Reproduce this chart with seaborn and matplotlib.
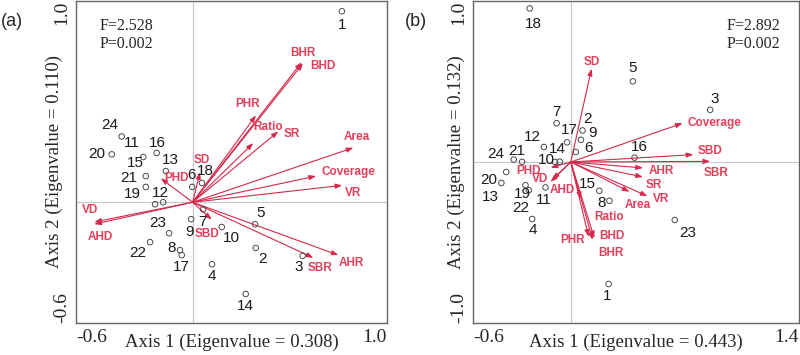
import pandas as pd
import matplotlib
matplotlib.use('Agg')
import matplotlib.pyplot as plt
import seaborn as sns

# site numbers
sites = list(range(1, 25))

# panel (a) site scores
a_site_x = [0.768, 0.325, 0.566, 0.100, 0.321, -0.002, 0.054, -0.065, -0.008, 0.150, -0.193, -0.152,
            -0.138, 0.273, -0.254, -0.185, -0.056, 0.048, -0.241, -0.416, -0.241, -0.219, -0.121, -0.365]
a_site_y = [0.949, -0.227, -0.266, -0.308, -0.109, 0.076, -0.035, -0.238, -0.084, -0.123, -0.010, 0.000,
            0.155, -0.456, 0.225, 0.245, -0.263, 0.096, 0.076, 0.238, 0.130, -0.198, -0.154, 0.327]

# panel (b) site scores
b_site_x = [0.232, 0.072, 0.855, -0.237, 0.381, 0.031, -0.087, 0.237, 0.062, -0.097, -0.155, -0.165,
            -0.396, -0.068, 0.175, 0.391, -0.023, -0.252, -0.278, -0.426, -0.299, -0.258, 0.638, -0.350]
b_site_y = [-0.758, 0.196, 0.324, -0.354, 0.501, 0.062, 0.241, -0.241, 0.138, 0.000, -0.158, 0.093,
            -0.062, 0.002, -0.179, 0.027, 0.122, 0.954, -0.144, -0.130, 0.001, -0.175, -0.360, 0.015]

# environmental vectors
a_env = ['BHR', 'BHD', 'PHR', 'Ratio', 'SR', 'Area', 'Coverage', 'VR', 'SD', 'PHD', 'VD', 'AHD', 'SBD', 'SBR', 'AHR']
a_env_x = [0.561, 0.568, 0.326, 0.312, 0.441, 0.827, 0.635, 0.770, 0.038, -0.164, -0.506, -0.506, 0.098, 0.621, 0.750]
a_env_y = [0.696, 0.690, 0.432, 0.294, 0.352, 0.271, 0.130, 0.084, 0.149, 0.119, -0.098, -0.109, -0.086, -0.276, -0.263]

b_env = ['SD', 'Coverage', 'SBD', 'SBR', 'AHR', 'SR', 'VR', 'Area', 'Ratio', 'PHR', 'BHD', 'BHR', 'PHD', 'VD', 'AHD']
b_env_x = [0.127, 0.686, 0.752, 0.855, 0.443, 0.443, 0.470, 0.360, 0.062, 0.109, 0.144, 0.134, -0.124, -0.114, -0.124]
b_env_y = [0.579, 0.241, 0.046, 0.004, -0.037, -0.093, -0.212, -0.185, -0.231, -0.464, -0.473, -0.484, -0.035, -0.109, -0.124]

a_eig = ('0.308', '0.110')
b_eig = ('0.443', '0.132')
a_stats = ['F=2.528', 'P=0.002']
b_stats = ['F=2.892', 'P=0.002']

# label offsets (pixels, dx right / dy up)
a_site_off = {1: (0, -14), 2: (7, -11), 3: (-4, -11), 4: (0, -12), 5: (6, 11), 6: (-1, 12), 7: (-1, -13),
              8: (-8, 2), 9: (-2, -13), 10: (10, -11), 11: (-23, 61), 12: (-3, 9), 13: (5, 11), 14: (0, -12),
              15: (-8, -6), 16: (1, 10), 17: (0, -12), 18: (3, 12), 19: (-13, -7), 20: (-15, 0), 21: (-17, -2),
              22: (-12, -11), 23: (-11, 10), 24: (-12, 11)}
b_site_off = {1: (-1, -12), 2: (5, 11), 3: (5, 11), 4: (1, -11), 5: (0, 13), 6: (13, 4), 7: (0, 11),
              8: (-8, -2), 9: (12, 7), 10: (-9, 2), 11: (-2, -13), 12: (-12, 10), 13: (-16, -25), 14: (-2, 13),
              15: (-12, 7), 16: (5, 11), 17: (2, 12), 18: (4, -16), 19: (-3, -9), 20: (-13, 3), 21: (-5, 11),
              22: (-8, -18), 23: (13, -13), 24: (-18, 6)}
a_env_off = {'BHR': (1, 9), 'BHD': (20, -3), 'PHR': (-8, 11), 'Ratio': (15, 16), 'SR': (13, -3), 'Area': (3, 11),
             'Coverage': (32, 4), 'VR': (11, -8), 'SD': (2, 12), 'PHD': (16, 0), 'VD': (-4, 12), 'AHD': (6, -13),
             'SBD': (-5, -14), 'SBR': (7, -10), 'AHR': (13, -8)}
b_env_off = {'SD': (0, 7), 'Coverage': (32, 0), 'SBD': (17, 4), 'SBR': (6, -12), 'AHR': (18, -3), 'SR': (11, -8),
             'VR': (14, -3), 'Area': (8, -13), 'Ratio': (28, -18), 'PHR': (-16, -3), 'BHD': (18, 2), 'BHR': (18, -13),
             'PHD': (-22, -3), 'VD': (-12, 1), 'AHD': (12, -8)}

sns.set_style('white')
plt.rcParams['font.family'] = ['Liberation Serif', 'DejaVu Serif']

ARROW = '#d42a4c'
TXT = '#e2405a'
FRAME = '#666666'


def draw_panel(ax, sx, sy, env, ex, ey, site_off, env_off, lims, xt, yt, xends, yends, eig, stats, stats_pos):
    ax.axhline(0, color='#c8c8c8', lw=0.8, zorder=0)
    ax.axvline(0, color='#c8c8c8', lw=0.8, zorder=0)

    for name, x, y in zip(env, ex, ey):
        ax.annotate('', xy=(x, y), xytext=(0, 0),
                    arrowprops=dict(arrowstyle='-|>,head_length=0.5,head_width=0.18', color=ARROW,
                                    lw=0.8, mutation_scale=8, shrinkA=0, shrinkB=0), zorder=2)
        dx, dy = env_off[name]
        ax.annotate(name, xy=(x, y), xytext=(dx, dy), textcoords='offset pixels', ha='center', va='center',
                    color=TXT, fontsize=8.5, fontweight='bold', family='Liberation Sans', zorder=4)

    df = pd.DataFrame({'site': sites, 'x': sx, 'y': sy})
    sns.scatterplot(data=df, x='x', y='y', ax=ax, marker='o', s=16, color='#4a4a4a', linewidth=0.7,
                    zorder=3, legend=False)
    coll = ax.collections[-1]
    coll.set_facecolor('none')
    coll.set_edgecolor('#4a4a4a')
    for s, x, y in zip(sites, sx, sy):
        dx, dy = site_off[s]
        ax.annotate(str(s), xy=(x, y), xytext=(dx, dy), textcoords='offset pixels', ha='center', va='center',
                    fontsize=11, family='Liberation Sans', color='#1a1a1a', zorder=4)

    ax.set_xlim(*lims[0])
    ax.set_ylim(*lims[1])
    ax.set_xticks(xt, [xends[0] if v == lims[0][0] else (xends[1] if v == lims[0][1] else '') for v in xt])
    ax.set_yticks(yt, [yends[0] if v == lims[1][0] else (yends[1] if v == lims[1][1] else '') for v in yt])
    xl = ax.get_xticklabels()
    xl[0].set_ha('left')
    xl[-1].set_ha('right')
    yl = ax.get_yticklabels()
    for t in yl:
        t.set_rotation(90)
    yl[0].set_va('bottom')
    yl[-1].set_va('top')
    ax.tick_params(direction='in', length=3, color=FRAME, labelsize=14, pad=4)
    for sp in ax.spines.values():
        sp.set_color(FRAME)
        sp.set_linewidth(1.0)

    ax.set_xlabel(f'Axis 1 (Eigenvalue = {eig[0]})', fontsize=13.5)
    ax.set_ylabel(f'Axis 2 (Eigenvalue = {eig[1]})', fontsize=13.5)
    ax.xaxis.label.set_va('center')
    ax.yaxis.label.set_va('center')
    return ax


fig = plt.figure(figsize=(8, 3.55), dpi=100)
ax1 = fig.add_axes([76 / 800, 32 / 355, 311 / 800, 322 / 355])
ax2 = fig.add_axes([473 / 800, 32 / 355, 326 / 800, 322 / 355])

a_ticks = [-0.6, -0.4, -0.2, 0.0, 0.2, 0.4, 0.6, 0.8, 1.0]
draw_panel(ax1, a_site_x, a_site_y, a_env, a_env_x, a_env_y, a_site_off, a_env_off,
           ((-0.6, 1.0), (-0.6, 1.0)), a_ticks, a_ticks, ('-0.6', '1.0'), ('-0.6', '1.0'),
           a_eig, a_stats, None)
ax1.xaxis.set_label_coords(0.5, -0.059)
ax1.yaxis.set_label_coords(-0.071, 0.5)
ax1.text(0.077, 0.922, a_stats[0], transform=ax1.transAxes, fontsize=11.5, va='center', ha='left')
ax1.text(0.077, 0.866, a_stats[1], transform=ax1.transAxes, fontsize=11.5, va='center', ha='left')

draw_panel(ax2, b_site_x, b_site_y, b_env, b_env_x, b_env_y, b_site_off, b_env_off,
           ((-0.6, 1.4), (-1.0, 1.0)), [-0.6, -0.5, 0.0, 0.5, 1.0, 1.4], [-1.0, -0.5, 0.0, 0.5, 1.0],
           ('-0.6', '1.4'), ('-1.0', '1.0'), b_eig, b_stats, None)
ax2.xaxis.set_label_coords(0.5, -0.059)
ax2.yaxis.set_label_coords(-0.052, 0.5)
ax2.text(0.942, 0.922, b_stats[0], transform=ax2.transAxes, fontsize=11.5, va='center', ha='right')
ax2.text(0.942, 0.866, b_stats[1], transform=ax2.transAxes, fontsize=11.5, va='center', ha='right')

fig.text(12 / 800, 1 - 22 / 355, '(a)', fontsize=13, family='Liberation Sans', ha='center', va='center')
fig.text(416 / 800, 1 - 22 / 355, '(b)', fontsize=13, family='Liberation Sans', ha='center', va='center')

fig.savefig('out.png', dpi=100)
